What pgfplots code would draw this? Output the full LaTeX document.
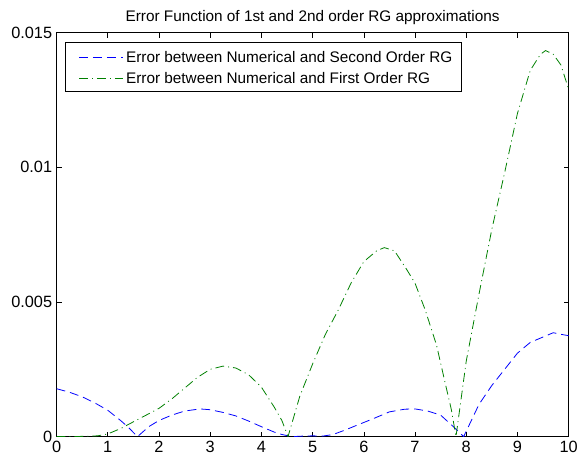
\documentclass[border=0pt]{standalone}
\usepackage{fontspec}
\setmainfont{Liberation Sans}
\usepackage{pgfplots}
\pgfplotsset{compat=1.18}

\definecolor{mblue}{RGB}{0,0,255}
\definecolor{mgreen}{RGB}{0,128,0}

\begin{document}
\begin{tikzpicture}
\begin{axis}[
    scale only axis,
    width=516bp, height=407bp,
    xmin=0, xmax=10, ymin=0, ymax=0.015,
    xtick={0,1,...,10},
    ytick={0,0.005,0.01,0.015},
    yticklabels={0,0.005,0.01,0.015},
    scaled y ticks=false,
    tick align=inside,
    tick pos=both,
    major tick length=5bp,
    axis line style={line width=0.8bp},
    every tick/.style={black, line width=0.6bp},
    /pgf/number format/assume math mode=true,
    ticklabel style={font=\fontsize{16.5}{18}\selectfont},
    xticklabel style={yshift=-1bp},
    yticklabel style={xshift=-1bp},
    title={Error Function of 1st and 2nd order RG approximations},
    title style={font=\fontsize{15.5}{18}\selectfont, at={(0.5,1)}, anchor=base, yshift=5bp},
    legend cell align=left,
    legend style={at={(9bp,398bp)}, anchor=north west, font=\fontsize{15.5}{17}\selectfont,
        draw=black, line width=0.6bp, inner xsep=9bp, inner ysep=5bp, row sep=2bp, column sep=3bp,
        nodes={inner sep=0bp, text height=15.5bp, text depth=3.5bp}},
    legend image code/.code={\path (0bp,0bp); \draw[#1, line width=0.8bp, yshift=-1.5bp] (4bp,0bp) -- (48bp,0bp);},
]

% second order RG error
\addplot[mblue, line width=0.8bp, dash pattern=on 9bp off 5bp] coordinates {
(0,0.00178) (0.25,0.00165) (0.5,0.00148) (0.75,0.00125) (1.0,0.00098)
(1.25,0.0006) (1.4,0.00035) (1.58,0) (1.8,0.00037) (2.0,0.0006)
(2.25,0.0008) (2.5,0.00095) (2.8,0.00103) (3.0,0.001) (3.25,0.0009)
(3.5,0.00077) (3.75,0.00058) (4.0,0.00037) (4.25,0.00017) (4.4,0.00008)
(4.6,0) (4.8,0.00002) (5.0,0.00003) (5.2,0.00002) (5.4,0.00008)
(5.6,0.00022) (5.9,0.00045) (6.2,0.00068) (6.5,0.00092) (6.8,0.00102)
(7.0,0.00103) (7.25,0.00095) (7.5,0.0008) (7.75,0.00037) (7.95,0)
(8.25,0.0012) (8.5,0.0019) (8.75,0.0025) (9.0,0.0031) (9.25,0.0035)
(9.5,0.0037) (9.7,0.00386) (9.85,0.0038) (10,0.00375)
};
\addlegendentry{Error between Numerical and Second Order RG}

% first order RG error
\addplot[mgreen, line width=0.8bp, dash pattern=on 9bp off 4bp on 1bp off 4bp] coordinates {
(0,0) (0.5,0.00001) (0.8,0.00003) (1.0,0.0001) (1.25,0.0003)
(1.5,0.00055) (1.75,0.0008) (2.0,0.00105) (2.25,0.0014) (2.5,0.0018)
(2.75,0.0022) (3.0,0.0025) (3.25,0.00262) (3.5,0.00255) (3.75,0.0023)
(4.0,0.00184) (4.25,0.0011) (4.4,0.0006) (4.52,0) (4.75,0.0015)
(5.0,0.0027) (5.25,0.0038) (5.5,0.0047) (5.75,0.0057) (6.0,0.0065)
(6.25,0.0069) (6.4,0.00702) (6.6,0.0069) (6.84,0.0062) (7.0,0.0057)
(7.2,0.0047) (7.42,0.0034) (7.6,0.0019) (7.71,0.001) (7.8,0)
(8.0,0.0028) (8.25,0.0053) (8.5,0.0077) (8.75,0.0098) (9.0,0.012)
(9.25,0.0136) (9.45,0.0142) (9.55,0.01434) (9.7,0.0142) (9.85,0.0138)
(10,0.0129)
};
\addlegendentry{Error between Numerical and First Order RG}

\end{axis}
\path (current axis.south west) ++(-57bp,-22bp) rectangle ([shift={(8bp,33bp)}]current axis.north east);
\end{tikzpicture}
\end{document}
